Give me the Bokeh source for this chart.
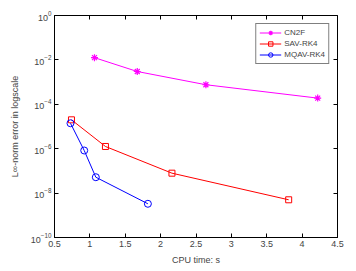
from bokeh.plotting import figure
from bokeh.models import FixedTicker, LinearAxis, LogAxis, Legend, LegendItem, Range1d
from bokeh.embed import file_html
from bokeh.resources import INLINE

cn2f_x = [1.065, 1.67, 2.64, 4.22]
cn2f_y = [1.26e-2, 3.0e-3, 7.6e-4, 1.9e-4]
sav_x = [0.74, 1.22, 2.16, 3.81]
sav_y = [2.0e-5, 1.26e-6, 7.9e-8, 5.0e-9]
mqav_x = [0.726, 0.92, 1.084, 1.82]
mqav_y = [1.4e-5, 8.3e-7, 5.2e-8, 3.3e-9]
x_ticks = [0.5, 1, 1.5, 2, 2.5, 3, 3.5, 4, 4.5]
y_ticks = [1e-10, 1e-8, 1e-6, 1e-4, 1e-2, 1]

FONT = "Liberation Sans"

p = figure(frame_width=283, frame_height=222, y_axis_type="log",
           x_range=Range1d(0.5, 4.5), y_range=Range1d(1e-10, 1),
           output_backend="svg", toolbar_location=None,
           min_border_left=54, min_border_top=15, min_border_right=12, min_border_bottom=32)
p.grid.visible = False
p.outline_line_color = "black"
p.outline_line_width = 1

p.xaxis.ticker = FixedTicker(ticks=x_ticks)
p.yaxis.ticker = FixedTicker(ticks=y_ticks)
for ax in (p.xaxis[0], p.yaxis[0]):
    ax.major_tick_in = 4
    ax.major_tick_out = 0
    ax.minor_tick_line_color = None
    ax.major_label_text_font = FONT
    ax.major_label_text_font_size = "9px"
    ax.axis_label_text_font = FONT
    ax.axis_label_text_font_size = "9px"
    ax.axis_label_text_font_style = "normal"
    ax.major_label_standoff = 3
p.xaxis.axis_label = "CPU time: s"
p.yaxis.axis_label = "L\u221e-norm error in logscale"
p.xaxis.axis_label_standoff = 5
p.yaxis.axis_label_standoff = 8

top = LinearAxis(ticker=FixedTicker(ticks=x_ticks), major_tick_in=4, major_tick_out=0,
                 minor_tick_line_color=None, major_label_text_color=None,
                 major_label_text_font_size="1px", axis_line_color=None)
right = LogAxis(ticker=FixedTicker(ticks=y_ticks), major_tick_in=4, major_tick_out=0,
                minor_tick_line_color=None, major_label_text_color=None,
                major_label_text_font_size="1px", axis_line_color=None)
p.add_layout(top, "above")
p.add_layout(right, "right")

l1 = p.line(cn2f_x, cn2f_y, color="#ff00ff", line_width=1)
m1 = p.scatter(cn2f_x, cn2f_y, marker="asterisk", size=7, line_color="#ff00ff", line_width=1.2)
l2 = p.line(sav_x, sav_y, color="#ff0000", line_width=1)
m2 = p.scatter(sav_x, sav_y, marker="square", size=6, line_color="#ff0000", fill_color=None)
l3 = p.line(mqav_x, mqav_y, color="#0000ff", line_width=1)
m3 = p.scatter(mqav_x, mqav_y, marker="circle", size=7, line_color="#0000ff", fill_color=None)

legend = Legend(items=[LegendItem(label="CN2F", renderers=[l1, m1]),
                       LegendItem(label="SAV-RK4", renderers=[l2, m2]),
                       LegendItem(label="MQAV-RK4", renderers=[l3, m3])],
                location="top_right", margin=8, padding=3, spacing=0,
                glyph_height=11, glyph_width=22, label_height=11,
                label_text_font=FONT, label_text_font_size="8px",
                label_standoff=3, border_line_color="black", border_line_width=1,
                background_fill_alpha=1)
p.add_layout(legend)

open("out.html", "w").write(file_html(p, INLINE))
